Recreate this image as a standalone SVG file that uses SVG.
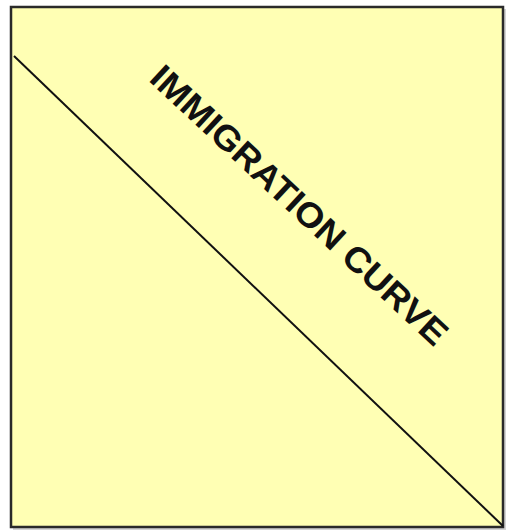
<svg xmlns="http://www.w3.org/2000/svg" width="508" height="532" viewBox="0 0 508 532">
<style>
.frame{fill:#ffffb4;stroke:#2a2a2a;stroke-width:2.5}
.curve{stroke:#111;stroke-width:2;fill:none}
.lbl{font-family:"Liberation Sans",Arial,sans-serif;font-weight:bold;font-size:35px;fill:#111}
</style>
<rect x="0" y="0" width="508" height="532" fill="#ffffff"/>
<rect x="13" y="9" width="493" height="521" fill="#b8b8b8" opacity="0.6"/>
<g id="frame">
<rect class="frame" x="11" y="7" width="492" height="520"/>
</g>
<g id="connectors">
<line class="curve" x1="14" y1="56" x2="503" y2="526"/>
</g>
<g id="label">
<text class="lbl" transform="translate(291,214) rotate(43)" x="0" y="0" text-anchor="middle" textLength="392" lengthAdjust="spacingAndGlyphs">IMMIGRATION CURVE</text>
</g>
</svg>
